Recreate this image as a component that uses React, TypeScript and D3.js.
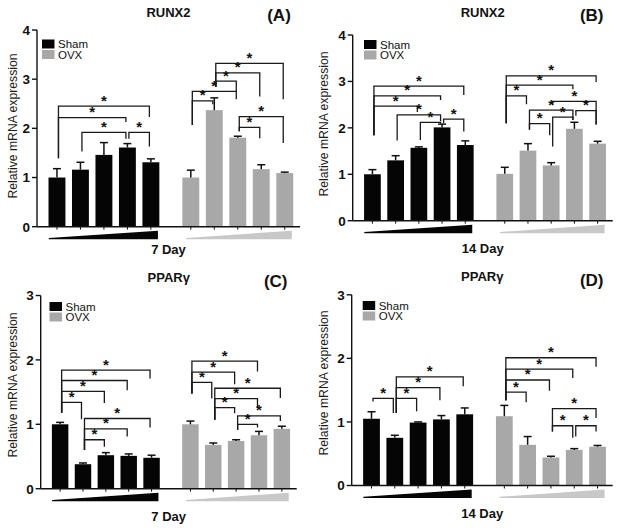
import React from "react";
import * as d3 from "d3";

const panelTitles = ["RUNX2", "RUNX2", "PPARγ", "PPARγ"];
const panelLetters = ["(A)", "(B)", "(C)", "(D)"];
const dayLabels = ["7 Day", "14 Day", "7 Day", "14 Day"];
const yMaxes = [4, 4, 3, 3];
const groupNames = ["Sham", "OVX"];
const yAxisTitle = "Relative mRNA expression";

// means and SEM (upper error) per panel, 5 doses each
const shamMeans = [
  [1.0, 1.16, 1.46, 1.61, 1.31],
  [1.0, 1.3, 1.57, 2.01, 1.63],
  [1.0, 0.38, 0.52, 0.51, 0.48],
  [1.05, 0.75, 0.99, 1.04, 1.12],
];
const shamSEM = [
  [0.18, 0.15, 0.25, 0.08, 0.07],
  [0.1, 0.1, 0.02, 0.07, 0.09],
  [0.03, 0.02, 0.04, 0.03, 0.04],
  [0.11, 0.04, 0.01, 0.06, 0.1],
];
const ovxMeans = [
  [1.0, 2.37, 1.81, 1.17, 1.09],
  [1.01, 1.51, 1.19, 1.98, 1.66],
  [1.0, 0.68, 0.74, 0.83, 0.93],
  [1.09, 0.64, 0.44, 0.56, 0.61],
];
const ovxSEM = [
  [0.15, 0.25, 0.03, 0.09, 0.02],
  [0.14, 0.15, 0.06, 0.14, 0.05],
  [0.05, 0.03, 0.02, 0.06, 0.04],
  [0.17, 0.13, 0.02, 0.02, 0.02],
];

// significance brackets: [group, fromBar, toBar, line level, left leg end, right leg end]
const bracketsA = [
  [0, 0, 4, 2.45, 1.39, 2.23],
  [0, 0, 3, 2.22, 1.39, 2.13],
  [0, 1, 3, 1.92, 1.53, 1.79],
  [0, 3, 4, 1.92, 1.79, 1.63],
  [1, 0, 1, 2.56, 2.07, 2.49],
  [1, 0, 2, 2.75, 2.07, 2.59],
  [1, 1, 2, 2.96, 2.84, 2.75],
  [1, 1, 3, 3.13, 2.84, 2.65],
  [1, 1, 4, 3.32, 2.84, 2.59],
  [1, 2, 3, 2.02, 1.94, 1.8],
  [1, 2, 4, 2.24, 1.94, 1.7],
];
const bracketsB = [
  [0, 0, 4, 2.9, 1.84, 2.71],
  [0, 0, 3, 2.69, 1.84, 2.6],
  [0, 0, 2, 2.47, 1.84, 2.34],
  [0, 1, 3, 2.28, 1.73, 2.14],
  [0, 2, 3, 2.12, 1.74, 2.09],
  [0, 3, 4, 2.19, 2.1, 1.92],
  [1, 0, 4, 3.12, 2.1, 2.99],
  [1, 0, 3, 2.92, 2.1, 2.83],
  [1, 0, 1, 2.69, 2.1, 2.51],
  [1, 1, 3, 2.38, 1.96, 2.17],
  [1, 1, 2, 2.09, 1.96, 1.84],
  [1, 2, 4, 2.57, 2.49, 2.07],
  [1, 3, 4, 2.37, 2.26, 2.07],
  [1, 2, 3, 2.23, 1.6, 2.17],
];
const bracketsC = [
  [0, 0, 4, 1.84, 1.18, 1.71],
  [0, 0, 3, 1.68, 1.18, 1.53],
  [0, 0, 2, 1.51, 1.18, 1.33],
  [0, 0, 1, 1.34, 1.18, 1.08],
  [0, 1, 4, 1.09, 0.6, 0.95],
  [0, 1, 3, 0.93, 0.6, 0.81],
  [0, 1, 2, 0.76, 0.6, 0.65],
  [1, 0, 3, 1.98, 1.48, 1.82],
  [1, 0, 2, 1.81, 1.48, 1.62],
  [1, 0, 1, 1.65, 1.48, 1.4],
  [1, 1, 4, 1.56, 1.07, 1.41],
  [1, 1, 3, 1.4, 1.07, 1.27],
  [1, 1, 2, 1.26, 1.07, 1.17],
  [1, 2, 4, 1.13, 0.91, 1.05],
  [1, 2, 3, 1.0, 0.91, 0.95],
];
const bracketsD = [
  [0, 0, 1, 1.37, 1.32, 1.14],
  [0, 1, 4, 1.71, 1.14, 1.56],
  [0, 1, 3, 1.54, 1.14, 1.34],
  [0, 1, 2, 1.37, 1.14, 1.17],
  [1, 0, 4, 2.01, 1.34, 1.87],
  [1, 0, 3, 1.83, 1.34, 1.69],
  [1, 0, 2, 1.66, 1.34, 1.49],
  [1, 0, 1, 1.47, 1.34, 1.31],
  [1, 2, 4, 1.21, 0.85, 1.06],
  [1, 2, 3, 0.94, 0.85, 0.75],
  [1, 3, 4, 0.94, 0.77, 0.85],
];
const allBrackets = [bracketsA, bracketsB, bracketsC, bracketsD];

const layouts = [
  { left: 37, right: 300, top: 30, bottom: 226.7, legX: 42, legY: 39.5, yLabX: 13, yLabY: 126, titleY: 17.3, letterY: 21, dayY: 253.5 },
  { left: 352.7, right: 612.7, top: 35, bottom: 220.7, legX: 364, legY: 40, yLabX: 324, yLabY: 124, titleY: 17.3, letterY: 21, dayY: 253 },
  { left: 40.7, right: 296.7, top: 295.5, bottom: 488.7, legX: 49.5, legY: 302, yLabX: 13, yLabY: 385, titleY: 282, letterY: 286.5, dayY: 520.5 },
  { left: 351.7, right: 612.7, top: 294.8, bottom: 485.5, legX: 362.7, legY: 301, yLabX: 324, yLabY: 383, titleY: 281.3, letterY: 285.7, dayY: 518 },
];

const FONT = "'Liberation Sans', Arial, sans-serif";
const BLACK = "#050505";
const GRAY = "#a8a8a8";
const WEDGE_GRAY = "#c8c8c8";
const GROUP_OFFSET = 5.7;

function Panel({ p }: { p: number }) {
  const L = layouts[p];
  const x = d3.scaleLinear().domain([-0.85, 10.35]).range([L.left, L.right]);
  const y = d3.scaleLinear().domain([0, yMaxes[p]]).range([L.bottom, L.top]);
  const slot = x(1) - x(0);
  const bw = slot * 0.72;
  const series = [
    { means: shamMeans[p], sem: shamSEM[p], color: BLACK },
    { means: ovxMeans[p], sem: ovxSEM[p], color: GRAY },
  ];
  const pos = (g: number, i: number) => x(g * GROUP_OFFSET + i);
  const ticks = d3.range(0, yMaxes[p] + 1);
  const cx = (L.left + L.right) / 2;

  const wedge = (g: number) => {
    const x0 = pos(g, g === 0 ? -0.35 : -0.2);
    const x1 = pos(g, 4.3);
    const yb = L.bottom + 12.5;
    return `M${x0},${yb} L${x0},${yb - 1.2} L${x1},${yb - 8.5} L${x1},${yb} Z`;
  };

  return (
    <g>
      {/* titles */}
      <text x={cx} y={L.titleY} textAnchor="middle" fontFamily={FONT} fontWeight="bold" fontSize={13} fill="#111">
        {panelTitles[p]}
      </text>
      <text x={L.right - 21} y={L.letterY} textAnchor="middle" fontFamily={FONT} fontWeight="bold" fontSize={17} fill="#111">
        {panelLetters[p]}
      </text>
      <text
        transform={`translate(${L.yLabX},${L.yLabY}) rotate(-90)`}
        textAnchor="middle"
        dominantBaseline="central"
        fontFamily={FONT}
        fontSize={12.2}
        fill="#1a1a1a"
      >
        {yAxisTitle}
      </text>

      {/* bars */}
      {series.map((s, g) =>
        s.means.map((m, i) => (
          <rect key={`b${g}-${i}`} x={pos(g, i) - bw / 2} y={y(m)} width={bw} height={y(0) - y(m)} fill={s.color} />
        ))
      )}
      {/* error bars */}
      {series.map((s, g) =>
        s.means.map((m, i) => {
          const cxb = pos(g, i);
          const yt = y(m + s.sem[i]);
          return (
            <g key={`e${g}-${i}`} stroke="#111" strokeWidth={1.5}>
              <line x1={cxb} x2={cxb} y1={y(m)} y2={yt} />
              <line x1={cxb - 4} x2={cxb + 4} y1={yt} y2={yt} />
            </g>
          );
        })
      )}

      {/* axes */}
      <line x1={L.left} x2={L.left} y1={L.top} y2={L.bottom} stroke="#111" strokeWidth={1.4} />
      <line x1={L.left} x2={L.right} y1={L.bottom} y2={L.bottom} stroke="#111" strokeWidth={1.4} />
      {ticks.map((t) => (
        <g key={`t${t}`}>
          <line x1={L.left - 5} x2={L.left} y1={y(t)} y2={y(t)} stroke="#111" strokeWidth={1.4} />
          <text x={L.left - 7} y={y(t)} dy="0.36em" textAnchor="end" fontFamily={FONT} fontWeight="bold" fontSize={13.5} fill="#111">
            {t}
          </text>
        </g>
      ))}
      {[0, 1].map((g) =>
        d3.range(5).map((i) => (
          <line key={`xt${g}-${i}`} x1={pos(g, i)} x2={pos(g, i)} y1={L.bottom} y2={L.bottom + 3} stroke="#111" strokeWidth={1} />
        ))
      )}

      {/* dose wedges */}
      <path d={wedge(0)} fill={BLACK} />
      <path d={wedge(1)} fill={WEDGE_GRAY} />
      <text x={cx} y={L.dayY} textAnchor="middle" fontFamily={FONT} fontWeight="bold" fontSize={13} fill="#111">
        {dayLabels[p]}
      </text>

      {/* legend */}
      {groupNames.map((n, g) => (
        <g key={`l${n}`}>
          <rect x={L.legX} y={L.legY + g * 10.5} width={12.5} height={9} fill={g === 0 ? BLACK : GRAY} />
          <text x={L.legX + 16} y={L.legY + g * 10.5 + 8.5} fontFamily={FONT} fontSize={11.5} fill="#111">
            {n}
          </text>
        </g>
      ))}

      {/* significance brackets */}
      {allBrackets[p].map((b, k) => {
        const [g, i, j, lv, lb, rb] = b;
        const xl = pos(g, i) + 1.5;
        const xr = pos(g, j) - 1.5;
        const yl = y(lv);
        return (
          <g key={`s${k}`}>
            <path
              d={`M${xl},${y(lb)} L${xl},${yl} L${xr},${yl} L${xr},${y(rb)}`}
              fill="none"
              stroke="#1a1a1a"
              strokeWidth={1.3}
            />
            <text x={(xl + xr) / 2} y={yl - 0.5} textAnchor="middle" fontFamily={FONT} fontWeight="bold" fontSize={15} fill="#111">
              *
            </text>
          </g>
        );
      })}
    </g>
  );
}

export default function App() {
  return (
    <svg width={623} height={528} style={{ position: "absolute", left: 0, top: 0, background: "#fff" }}>
      <rect width={623} height={528} fill="#fff" />
      {[0, 1, 2, 3].map((p) => (
        <Panel key={p} p={p} />
      ))}
    </svg>
  );
}
